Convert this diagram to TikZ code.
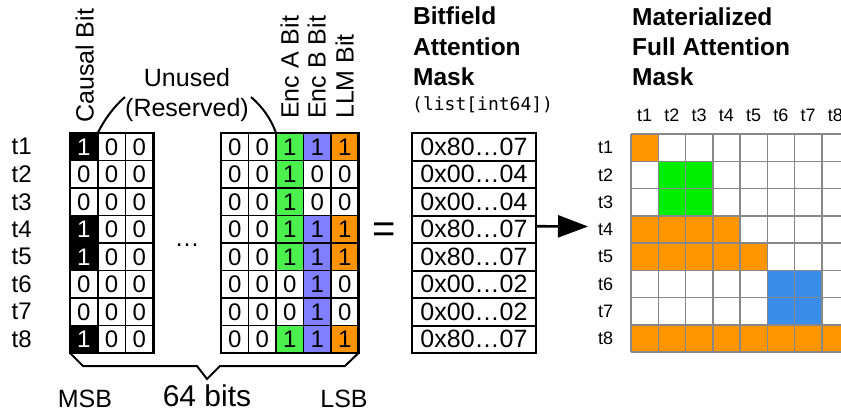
\documentclass[tikz,border=0pt]{standalone}
\usepackage{fontspec}
\setmainfont{Liberation Sans}
\newfontfamily\mymono{DejaVu Sans Mono}
\usetikzlibrary{arrows.meta}
\definecolor{encA}{RGB}{76,240,76}
\definecolor{encB}{RGB}{128,128,255}
\definecolor{llm}{RGB}{255,146,0}
\definecolor{mOrange}{RGB}{255,149,0}
\definecolor{mGreen}{RGB}{0,238,0}
\definecolor{mBlue}{RGB}{58,142,234}
\definecolor{gridgray}{RGB}{136,136,136}
\newcommand\fsreg{\fontsize{25}{29}\selectfont}
\newcommand\fscell{\fontsize{24}{28}\selectfont}
\newcommand\fsmask{\fontsize{25}{29}\selectfont}
\newcommand\fsbig{\fontsize{30}{35}\selectfont}
\newcommand\fssmall{\fontsize{18}{22}\selectfont}
\newcommand\fshead{\fontsize{24.5}{28}\selectfont}
\newcommand\fseq{\fontsize{40}{44}\selectfont}
\newcommand\fsmono{\fontsize{18}{22}\selectfont}
\begin{document}
\begin{tikzpicture}[x=1pt,y=-1pt,
  bitcell/.style={draw, line width=1.8pt, minimum width=27.7pt, minimum height=27.5pt, inner sep=0pt, outer sep=0pt, font=\fscell},
  bitcellR/.style={bitcell, minimum width=27.5pt},
  maskrow/.style={draw, line width=2pt, minimum width=124pt, minimum height=27.5pt, inner sep=0pt, outer sep=0pt, font=\fsmask},
  lbl/.style={inner sep=0pt, font=\fsreg},
  rowlbl/.style={inner sep=0pt, font=\fscell},
  hdr/.style={inner sep=0pt, anchor=base west, font=\fshead\bfseries},
  vlbl/.style={inner sep=0pt, rotate=90, anchor=base west, font=\fsreg},
  smalllbl/.style={inner sep=0pt, font=\fssmall},
  outline/.style={line width=2.8pt},
  curve/.style={line width=2pt},
  gridline/.style={draw=gridgray, line width=1.5pt},
]
\useasboundingbox (0,0) rectangle (841,415);
\clip (0,0) rectangle (841,415);

% bit grids and mask rows
\foreach \r/\cz/\da/\db/\dc/\hx in {
  1/1/1/1/1/0x80…07,
  2/0/1/0/0/0x00…04,
  3/0/1/0/0/0x00…04,
  4/1/1/1/1/0x80…07,
  5/1/1/1/1/0x80…07,
  6/0/0/1/0/0x00…02,
  7/0/0/1/0/0x00…02,
  8/1/1/1/1/0x80…07}{
  \pgfmathsetmacro\yc{133+27.5*(\r-0.5)}
  \ifnum\cz=1 \def\fz{black}\def\tz{white}\else\def\fz{white}\def\tz{black}\fi
  \ifnum\da=1 \def\fa{encA}\else\def\fa{white}\fi
  \ifnum\db=1 \def\fb{encB}\else\def\fb{white}\fi
  \ifnum\dc=1 \def\fc{llm}\else\def\fc{white}\fi
  \node[rowlbl, anchor=west] (rl\r) at (11.5,\yc) {t\r};
  \node[bitcell, fill=\fz, text=\tz] (L-\r-1) at (83.85,\yc) {\cz};
  \node[bitcell, fill=white] (L-\r-2) at (111.55,\yc) {0};
  \node[bitcell, fill=white] (L-\r-3) at (139.25,\yc) {0};
  \node[bitcellR, fill=white] (R-\r-1) at (234.75,\yc) {0};
  \node[bitcellR, fill=white] (R-\r-2) at (262.25,\yc) {0};
  \node[bitcellR, fill=\fa] (R-\r-3) at (289.75,\yc) {\da};
  \node[bitcellR, fill=\fb] (R-\r-4) at (317.25,\yc) {\db};
  \node[bitcellR, fill=\fc] (R-\r-5) at (344.75,\yc) {\dc};
  \node[maskrow] (H-\r) at (474,\yc) {\hx};
}
\draw[outline] (L-1-1.north west) rectangle (L-8-3.south east);
\draw[outline] (R-1-1.north west) rectangle (R-8-5.south east);
\draw[outline] (H-1.north west) rectangle (H-8.south east);

% column headers
\node[vlbl] (vC) at (93.5,123) {Causal Bit};
\node[vlbl] (vA) at (298.5,119) {Enc A Bit};
\node[vlbl] (vB) at (325.5,119) {Enc B Bit};
\node[vlbl] (vL) at (353.5,119) {LLM Bit};

% unused (reserved)
\node[lbl, anchor=base] (un1) at (187,86) {Unused};
\node[lbl, anchor=base] (un2) at (187,116.5) {(Reserved)};
\coordinate (arcL) at (125,97);
\coordinate (arcR) at (251,97);
\draw[curve] (L-1-2.north west) .. controls (104.8,119.1) and (113.6,106.8) .. (arcL);
\draw[curve] (arcR) .. controls (262.4,106.8) and (271.2,119.1) .. (R-1-3.north west);

\node[lbl, anchor=base] (dots) at (187,246) {…};
\node[inner sep=0pt, font=\fseq] (eq) at (384,233) {=};

% brace
\coordinate (b1) at (83,366);
\coordinate (b2) at (197,366);
\coordinate (btip) at (207,379);
\coordinate (b3) at (220,366);
\coordinate (b4) at (345,366);
\draw[curve] (L-8-1.south west) -- (b1) -- (b2) -- (btip) -- (b3) -- (b4) -- (R-8-5.south east);
\node[lbl, anchor=base] (msb) at (85,407) {MSB};
\node[lbl, anchor=base] (lsb) at (344,407) {LSB};
\node[inner sep=0pt, font=\fsbig, anchor=base] (bits) at (207,406) {64 bits};

% middle headers
\node[hdr] (bf1) at (413,24) {Bitfield};
\node[hdr] (bf2) at (413,55) {Attention};
\node[hdr] (bf3) at (413,85) {Mask};
\node[inner sep=0pt, anchor=base west, font=\fsmono\mymono] (bf4) at (412,110) {(list[int64])};

% arrow
\coordinate (arrowTip) at (588,226.5);
\draw[line width=2.6pt, -{Triangle[length=30pt,width=22pt]}] ([yshift=3pt]H-4.east) -- (arrowTip);

% right headers
\node[hdr] (mf1) at (632,25) {Materialized};
\node[hdr] (mf2) at (632,55) {Full Attention};
\node[hdr] (mf3) at (632,85) {Mask};

% materialized grid
\begin{scope}[shift={(631,134)}, x=27.25pt, y=-27.25pt]
  \fill[mOrange] (0,0) rectangle (1,1);
  \fill[mGreen] (1,1) rectangle (3,3);
  \fill[mOrange] (0,3) rectangle (4,4);
  \fill[mOrange] (0,4) rectangle (5,5);
  \fill[mBlue] (5,5) rectangle (7,7);
  \fill[mOrange] (0,7) rectangle (8,8);
  \foreach \i in {0,...,8} {
    \draw[gridline] (\i,0) -- (\i,8);
    \draw[gridline] (0,\i) -- (8,\i);
  }
\end{scope}
\foreach \i in {1,...,8} {
  \node[smalllbl, anchor=base] (ct\i) at ({631+27.25*(\i-0.5)},121.7) {t\i};
  \node[smalllbl, anchor=west] (rt\i) at (598,{134+27.25*(\i-0.5)}) {t\i};
}
\end{tikzpicture}
\end{document}
